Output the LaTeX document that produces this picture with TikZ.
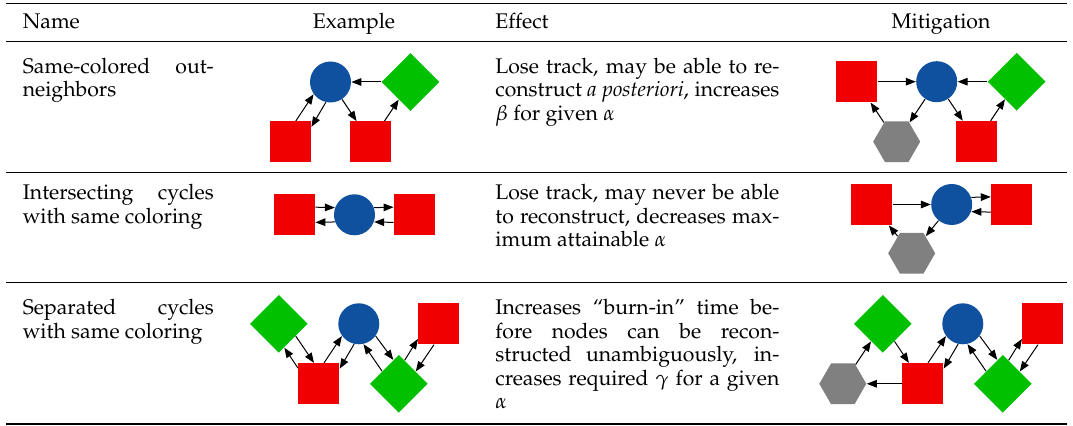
\documentclass[tikz,border=0pt]{standalone}
\usepackage[T1]{fontenc}
\usepackage{mathpazo}
\usepackage{xcolor}
\usepackage{tikz}
\usetikzlibrary{
    arrows.meta,
    positioning,
    shapes.geometric,
    calc
}
\definecolor{nodeblue}{RGB}{15,81,158}
\definecolor{nodered}{RGB}{240,0,0}
\definecolor{nodegreen}{RGB}{0,192,0}
\definecolor{nodegray}{RGB}{128,128,128}

\begin{document}
\begin{tikzpicture}[
    x=0.5pt,
    y=-0.5pt,
    on grid,
    cell/.style={
        inner sep=0pt,
        font=\fontsize{10.6}{11.7}\selectfont
    },
    para/.style={
        cell,
        anchor=base west,
        text width=#1,
        align=justify
    },
    sq/.style={
        rectangle,
        fill=nodered,
        inner sep=0pt,
        minimum size=20.5pt
    },
    blob/.style={
        circle,
        fill=nodeblue,
        inner sep=0pt,
        minimum size=20.5pt
    },
    gem/.style={
        diamond,
        fill=nodegreen,
        inner sep=0pt,
        minimum size=29pt
    },
    hex/.style={
        regular polygon,
        regular polygon sides=6,
        fill=nodegray,
        inner sep=0pt,
        minimum size=23.5pt
    },
    link/.style={
        -{Triangle[length=5pt,width=3.8pt]},
        line width=0.5pt
    },
    pair/.style={
        to path={
            let \p1=($(\tikztotarget)-(\tikztostart)$),
                \n1={atan2(\y1,\x1)+20},
                \n2={atan2(\y1,\x1)+160}
            in (\tikztostart.\n1) -- (\tikztotarget.\n2) \tikztonodes
        }
    },
    toprule/.style={line width=0.85pt},
    midrule/.style={line width=0.5pt}
]
\useasboundingbox (0,0) rectangle (1073,426);

% Rules
\draw[toprule] (6,3.4) -- (1067,3.4);
\draw[midrule] (6,41.3) -- (1067,41.3);
\draw[midrule] (6,172.3) -- (1067,172.3);
\draw[midrule] (6,282.7) -- (1067,282.7);
\draw[toprule] (6,424.3) -- (1067,424.3);

% Header
\node[cell, anchor=base west] (hname) at (22.4,29) {Name};
\node[cell, anchor=base] (hexample) at (354,29) {Example};
\node[cell, anchor=base west] (heffect) at (495,29) {Effect};
\node[cell, anchor=base] (hmitigation) at (941,29) {Mitigation};

% Same-colored out-neighbors
\node[para=95.5pt] (outname) at (22.4,73.3) {Same-colored out-\linebreak neighbors};
\node[para=142pt] (outeffect) at (495,73.3) {Lose track, may be able to re-\linebreak construct \emph{a posteriori}, increases\linebreak $\beta$ for given $\alpha$};

\node[sq] (outsqA) at (290.5,142) {};
\node[blob, above right=30pt and 20pt of outsqA] (outdot) {};
\node[sq, right=40pt of outsqA] (outsqB) {};
\node[gem, right=40pt of outdot] (outgem) {};

\draw[link] (outsqA) to[pair] (outdot);
\draw[link] (outdot) to[pair] (outsqA);
\draw[link] (outdot) -- (outsqB);
\draw[link] (outsqB) -- (outgem);
\draw[link] (outgem) -- (outdot);

\node[sq] (ofixsqA) at (856.7,81.7) {};
\node[blob, right=40pt of ofixsqA] (ofixdot) {};
\node[gem, right=40pt of ofixdot] (ofixgem) {};
\node[hex, below right=30pt and 20pt of ofixsqA] (ofixhex) {};
\node[sq, below right=30pt and 20pt of ofixdot] (ofixsqB) {};

\draw[link] (ofixsqA) -- (ofixdot);
\draw[link] (ofixgem) -- (ofixdot);
\draw[link] (ofixdot) -- (ofixhex);
\draw[link] (ofixhex) -- (ofixsqA);
\draw[link] (ofixdot) -- (ofixsqB);
\draw[link] (ofixsqB) -- (ofixgem);

% Intersecting cycles
\node[para=95.5pt] (intname) at (22.4,200) {Intersecting cycles\linebreak with same coloring};
\node[para=142pt] (inteffect) at (495,200) {Lose track, may never be able\linebreak to reconstruct, decreases max-\linebreak imum attainable $\alpha$};

\node[sq] (intsqA) at (294.5,214.8) {};
\node[blob, right=30pt of intsqA] (intdot) {};
\node[sq, right=30pt of intdot] (intsqB) {};

\draw[link] (intsqA) to[pair] (intdot);
\draw[link] (intdot) to[pair] (intsqA);
\draw[link] (intdot) to[pair] (intsqB);
\draw[link] (intsqB) to[pair] (intdot);

\node[sq] (ifixsqA) at (871.7,204.5) {};
\node[blob, right=40pt of ifixsqA] (ifixdot) {};
\node[sq, right=30pt of ifixdot] (ifixsqB) {};
\node[hex, below right=24.4pt and 20pt of ifixsqA] (ifixhex) {};

\draw[link] (ifixsqA) -- (ifixdot);
\draw[link] (ifixdot) to[pair] (ifixsqB);
\draw[link] (ifixsqB) to[pair] (ifixdot);
\draw[link] (ifixdot) -- (ifixhex);
\draw[link] (ifixhex) -- (ifixsqA);

% Separated cycles
\node[para=95.5pt] (sepname) at (22.4,315) {Separated cycles\linebreak with same coloring};
\node[para=142pt] (sepeffect) at (495,315) {Increases ``burn-in'' time be-\linebreak fore nodes can be recon-\linebreak structed unambiguously, in-\linebreak creases required $\gamma$ for a given\linebreak $\alpha$};

\node[gem] (sepgemA) at (278.8,323.8) {};
\node[sq, below right=30pt and 20pt of sepgemA] (sepsqA) {};
\node[blob, right=40pt of sepgemA] (sepdot) {};
\node[gem, below right=30pt and 20pt of sepdot] (sepgemB) {};
\node[sq, right=40pt of sepdot] (sepsqB) {};

\draw[link] (sepgemA) to[pair] (sepsqA);
\draw[link] (sepsqA) to[pair] (sepgemA);
\draw[link] (sepsqA) to[pair] (sepdot);
\draw[link] (sepdot) to[pair] (sepsqA);
\draw[link] (sepdot) to[pair] (sepgemB);
\draw[link] (sepgemB) to[pair] (sepdot);
\draw[link] (sepgemB) to[pair] (sepsqB);
\draw[link] (sepsqB) to[pair] (sepgemB);

\node[hex] (sfixhex) at (842.8,383.8) {};
\node[gem, above right=30pt and 20pt of sfixhex] (sfixgemA) {};
\node[sq, right=40pt of sfixhex] (sfixsqA) {};
\node[blob, right=40pt of sfixgemA] (sfixdot) {};
\node[gem, right=40pt of sfixsqA] (sfixgemB) {};
\node[sq, right=40pt of sfixdot] (sfixsqB) {};

\draw[link] (sfixhex) -- (sfixgemA);
\draw[link] (sfixgemA) -- (sfixsqA);
\draw[link] (sfixsqA) -- (sfixhex);
\draw[link] (sfixsqA) to[pair] (sfixdot);
\draw[link] (sfixdot) to[pair] (sfixsqA);
\draw[link] (sfixdot) to[pair] (sfixgemB);
\draw[link] (sfixgemB) to[pair] (sfixdot);
\draw[link] (sfixgemB) to[pair] (sfixsqB);
\draw[link] (sfixsqB) to[pair] (sfixgemB);

\end{tikzpicture}
\end{document}
